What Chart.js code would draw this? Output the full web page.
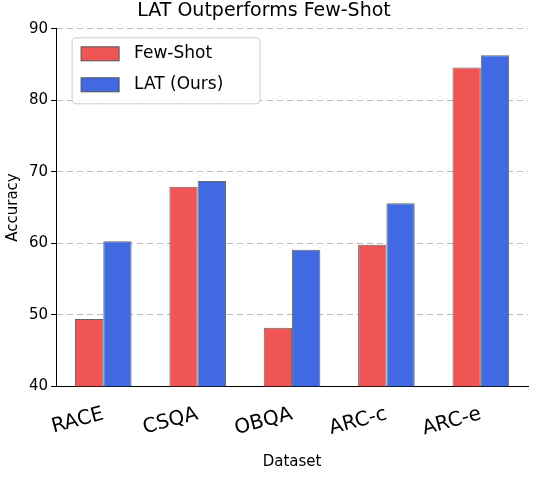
<!DOCTYPE html>
<html><head><meta charset="utf-8">
<script src="https://cdn.jsdelivr.net/npm/chart.js@4/dist/chart.umd.min.js"></script>
<style>html,body{margin:0;padding:0;background:#fff}#w{width:535px;height:483px}</style>
</head><body><div id="w"><canvas id="c"></canvas></div>
<script>
const categories = ["RACE","CSQA","OBQA","ARC-c","ARC-e"];
const fewShot = [49.4, 67.9, 48.2, 59.8, 84.6];
const latOurs = [60.3, 68.7, 59.1, 65.6, 86.3];
const yTicks = [40,50,60,70,80,90];
const F = "DejaVu Sans";
const legendBox = {
  id:'legendBox',
  afterDraw(chart){
    const ctx=chart.ctx, a=chart.chartArea;
    const x=a.left+16, y=a.top+9, w=188, h=66;
    ctx.save();
    ctx.fillStyle='rgba(255,255,255,0.8)';ctx.strokeStyle='#ccc';ctx.lineWidth=1;
    ctx.beginPath();ctx.roundRect(x,y,w,h,4);ctx.fill();ctx.stroke();
    chart.data.datasets.forEach((d,i)=>{
      const yy=y+9+i*31;
      ctx.fillStyle=d.backgroundColor;ctx.fillRect(x+9,yy,38,14);
      ctx.strokeStyle='#555';ctx.strokeRect(x+9,yy,38,14);
      ctx.fillStyle='#000';ctx.font='17px '+F;ctx.textBaseline='middle';
      ctx.fillText(d.label,x+62,yy+7);
    });
    ctx.restore();
  }
};
new Chart(document.getElementById('c'),{
  type:'bar',
  data:{labels:categories,datasets:[
    {label:'Few-Shot',data:fewShot,backgroundColor:'#ef5555',borderColor:'#666',borderWidth:1,borderSkipped:false},
    {label:'LAT (Ours)',data:latOurs,backgroundColor:'#4169e1',borderColor:'#666',borderWidth:1,borderSkipped:false}
  ]},
  options:{responsive:true,maintainAspectRatio:false,animation:false,
    layout:{padding:{left:0,right:7,top:0,bottom:8}},
    datasets:{bar:{categoryPercentage:0.6,barPercentage:1.0}},
    plugins:{legend:{display:false},
      title:{display:true,text:'LAT Outperforms Few-Shot',color:'#000',font:{family:F,size:19,weight:'normal'},padding:{top:0,bottom:6}}},
    scales:{
      x:{grid:{display:false},border:{color:'#000'},
        ticks:{color:'#000',font:{family:F,size:20},maxRotation:15,minRotation:15,padding:8},
        title:{display:true,text:'Dataset',color:'#000',font:{family:F,size:15},padding:{top:4}}},
      y:{min:40,max:90,afterBuildTicks(s){s.ticks=yTicks.map(v=>({value:v}));},
        border:{color:'#000',dash:[6,4]},
        grid:{color:'#bbb',drawTicks:true,tickColor:'#000',tickLength:5},
        ticks:{color:'#000',font:{family:F,size:15}},
        title:{display:true,text:'Accuracy',color:'#000',font:{family:F,size:15},padding:{bottom:4}}}
    }},
  plugins:[legendBox]
});
</script></body></html>
